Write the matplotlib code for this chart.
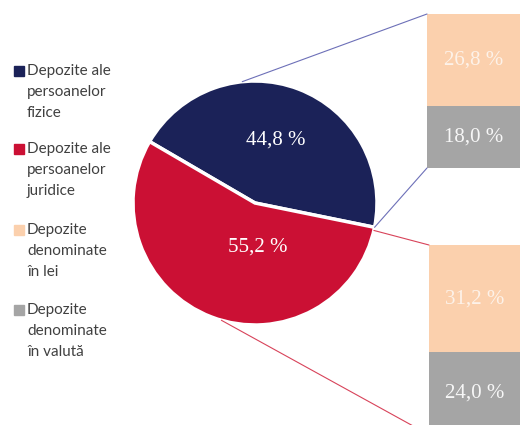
import numpy as np
import matplotlib.pyplot as plt
from matplotlib.patches import Rectangle, ConnectionPatch

plt.rcParams['font.family'] = ['Lato', 'DejaVu Sans']

# data
pie_labels = ['Depozite ale\npersoanelor\nfizice', 'Depozite ale\npersoanelor\njuridice']
pie_values = [44.8, 55.2]
bar_labels = ['Depozite\ndenominate\nîn lei', 'Depozite\ndenominate\nîn valută']
fizice_split = [26.8, 18.0]     # lei, valuta
juridice_split = [31.2, 24.0]   # lei, valuta

NAVY = '#1b2258'
RED = '#cb1034'
PEACH = '#fbd0ad'
GREY = '#a5a5a5'
TEXT = '#404040'

W, H = 520, 425
fig = plt.figure(figsize=(W / 100, H / 100), dpi=100)


def px_rect(x0, y0, x1, y1):
    """pixel box (top-left origin) -> figure fraction rect"""
    return [x0 / W, 1 - y1 / H, (x1 - x0) / W, (y1 - y0) / H]


def fmt(v):
    return f'{v:.1f} %'.replace('.', ',')


# pie
ax_pie = fig.add_axes(px_rect(133, 81, 377, 325))
start = -11.5
wedges, _ = ax_pie.pie(pie_values, colors=[NAVY, RED], startangle=start,
                       counterclock=True, radius=1,
                       wedgeprops=dict(edgecolor='white', linewidth=2.5))
ax_pie.set_xlim(-1, 1)
ax_pie.set_ylim(-1, 1)
ax_pie.set_aspect('equal')
ax_pie.axis('off')
ax_pie.text(0.17, 0.52, fmt(pie_values[0]), color='white', ha='center', va='center',
            fontsize=15, family='Liberation Serif')
ax_pie.text(0.02, -0.36, fmt(pie_values[1]), color='white', ha='center', va='center',
            fontsize=15, family='Liberation Serif')

# stacked bars, same scale for both
scale = 154 / pie_values[0]   # px per percentage point
bar_axes = []
for i, (split, top_px, left_px) in enumerate([(fizice_split, 14, 427),
                                                (juridice_split, 245, 429)]):
    total = sum(split)
    ax = fig.add_axes(px_rect(left_px, top_px, 520, top_px + total * scale))
    lei, val = split
    ax.bar(0, val, width=1, align='edge', color=GREY)
    ax.bar(0, lei, width=1, bottom=val, align='edge', color=PEACH)
    ax.text(0.5, val / 2, fmt(val), color='#f7f7f7', ha='center', va='center',
            fontsize=15, family='Liberation Serif')
    ax.text(0.5, val + lei / 2, fmt(lei), color='#fdf2e9', ha='center', va='center',
            fontsize=15, family='Liberation Serif')
    ax.set_xlim(0, 1)
    ax.set_ylim(0, total)
    ax.axis('off')
    bar_axes.append(ax)


def on_circle(angle):
    a = np.deg2rad(angle)
    return (np.cos(a), np.sin(a))


links = [
    (96, bar_axes[0], pie_values[0], '#6d70b8'),
    (start, bar_axes[0], 0, '#6d70b8'),
    (start - 1.5, bar_axes[1], pie_values[1], '#d8435a'),
    (-106, bar_axes[1], 0, '#d8435a'),
]
for ang, bax, y, c in links:
    con = ConnectionPatch(xyA=on_circle(ang), coordsA=ax_pie.transData,
                          xyB=(0, y), coordsB=bax.transData, color=c, lw=0.8)
    fig.add_artist(con)

# legend
entries = list(zip(pie_labels + bar_labels, [NAVY, RED, PEACH, GREY]))
first_line = [71, 149, 230, 310]
for (label, c), yc in zip(entries, first_line):
    fig.add_artist(Rectangle((14 / W, 1 - (yc + 5) / H), 10 / W, 10 / H,
                             transform=fig.transFigure, color=c))
    fig.text(27 / W, 1 - (yc - 7) / H, label, ha='left', va='top',
             fontsize=11, color=TEXT, linespacing=1.62)

fig.savefig('out.png', dpi=100)
